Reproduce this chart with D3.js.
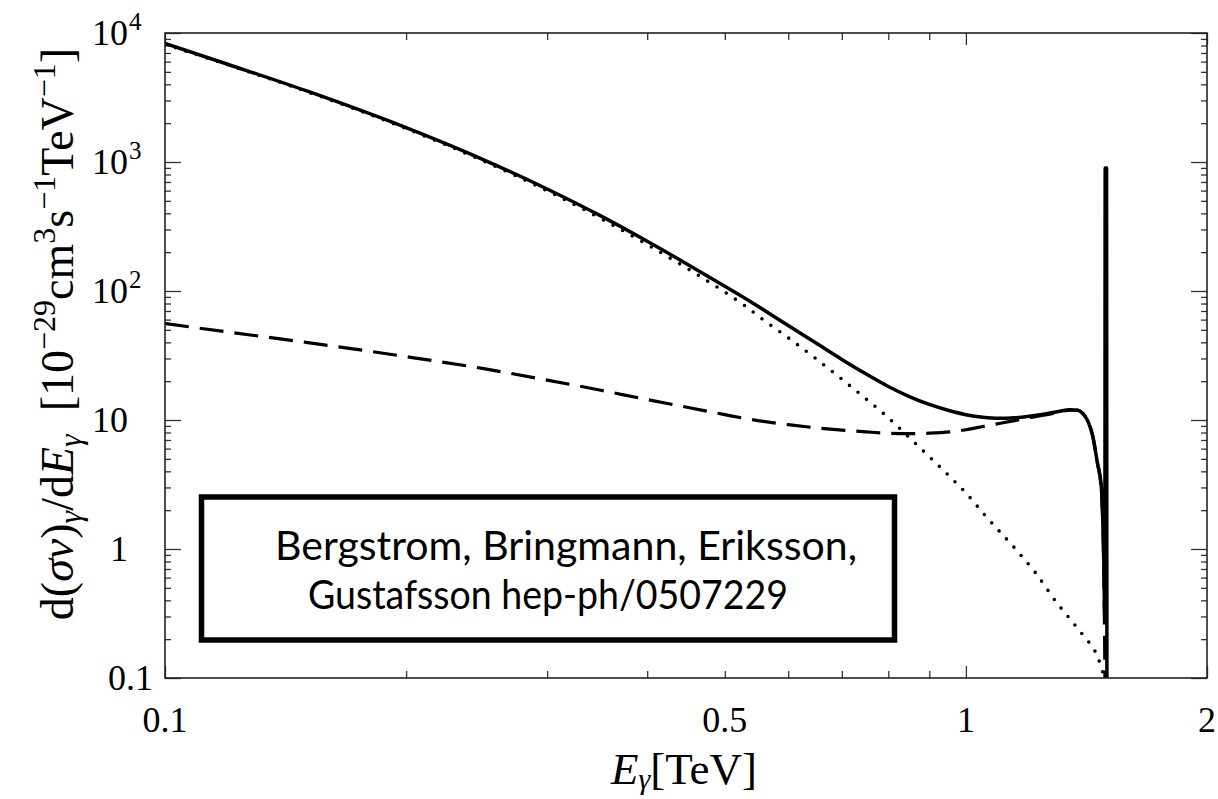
<!DOCTYPE html>
<html>
<head>
<meta charset="utf-8">
<script src="https://cdn.jsdelivr.net/npm/d3@7"></script>
<style>
  body { margin: 0; background: #fff; }
  svg { display: block; }
  .domain { display: none; }
</style>
</head>
<body>
<svg id="chart" width="1218" height="799"></svg>
<script>
"use strict"

// E_gamma [TeV] vs d(sigma v)/dE [1e-29 cm^3 s^-1 TeV^-1]
let totalSpectrum = [
  [0.1, 8300], [0.12, 5700], [0.15, 3570], [0.2, 1846], [0.25, 1040],
  [0.3, 618], [0.35, 382], [0.4, 243], [0.45, 160], [0.5, 109],
  [0.528, 89], [0.56, 71], [0.6, 54], [0.65, 39.5], [0.7, 29.5],
  [0.75, 22.8], [0.8, 18.2], [0.85, 15.2], [0.9, 13.2], [0.95, 11.9],
  [1.0, 11.0], [1.05, 10.5], [1.1, 10.3], [1.15, 10.4], [1.2, 10.7],
  [1.25, 11.1], [1.3, 11.6], [1.35, 12.0], [1.38, 11.9], [1.4, 11.2],
  [1.42, 9.8], [1.44, 7.5], [1.46, 4.6], [1.475, 3.2], [1.486, 0.9],
  [1.491, 0.3], [1.4925, 900], [1.4985, 900], [1.5, 0.05]
]

let lineIBSpectrum = [
  [0.1, 56], [0.12, 48], [0.15, 40], [0.2, 31], [0.25, 25],
  [0.3, 20.4], [0.35, 17], [0.4, 14.4], [0.45, 12.5], [0.5, 11],
  [0.55, 9.9], [0.6, 9.2], [0.65, 8.7], [0.7, 8.35], [0.75, 8.1],
  [0.8, 7.9], [0.85, 7.85], [0.9, 7.9], [0.96, 8.1], [1.0, 8.4],
  [1.05, 8.9], [1.1, 9.4], [1.15, 9.9], [1.2, 10.4], [1.25, 10.9],
  [1.3, 11.4], [1.35, 11.9], [1.38, 11.9], [1.4, 11.2], [1.42, 9.8],
  [1.44, 7.5], [1.46, 4.6], [1.475, 3.0], [1.486, 0.8], [1.492, 0.08]
]

let continuumSpectrum = [
  [0.1, 8150], [0.12, 5650], [0.15, 3530], [0.2, 1815], [0.25, 1015],
  [0.3, 598], [0.35, 365], [0.4, 229], [0.45, 148], [0.5, 98],
  [0.528, 78], [0.56, 59], [0.6, 43.4], [0.65, 29.8], [0.7, 20.7],
  [0.75, 14.6], [0.8, 10.4], [0.85, 7.3], [0.9, 5.2], [0.95, 3.75],
  [1.0, 2.72], [1.06, 1.78], [1.15, 1.02], [1.22, 0.66], [1.3, 0.38],
  [1.35, 0.285], [1.4, 0.215], [1.46, 0.146], [1.49, 0.1]
]

let xMajor = [0.1, 1, 2]
let xMinor = [0.2, 0.3, 0.4, 0.5, 0.6, 0.7, 0.8, 0.9]
let xLabels = [["0.1", 0.1], ["0.5", 0.5], ["1", 1], ["2", 2]]
let yMajor = [0.1, 1, 10, 100, 1000, 10000]
let yLabels = [["0.1", null, 0.1], ["1", null, 1], ["10", null, 10],
               ["10", "2", 100], ["10", "3", 1000], ["10", "4", 10000]]

let svg = d3.select("#chart")
let pLeft = 165, pRight = 1207, pTop = 33, pBottom = 678
let serif = "'Liberation Serif', 'DejaVu Serif', serif"

let x = d3.scaleLog().domain([0.1, 2]).range([pLeft, pRight])
let y = d3.scaleLog().domain([0.1, 10000]).range([pBottom, pTop])

let yMinor = []
yMajor.slice(0, -1).forEach(d => {
  for (let k = 2; k <= 9; k++) yMinor.push(d * k)
})

/* tick marks, all pointing inward */
function tickGroup(axis, tx, ty) {
  svg.append("g")
    .attr("transform", "translate(" + tx + "," + ty + ")")
    .call(axis)
    .call(g => g.selectAll("line").attr("stroke", "#333").attr("stroke-width", 1.3))
}
tickGroup(d3.axisBottom(x).tickValues(xMinor).tickSize(-7).tickFormat(""), 0, pBottom)
tickGroup(d3.axisBottom(x).tickValues(xMajor).tickSize(-12).tickFormat(""), 0, pBottom)
tickGroup(d3.axisTop(x).tickValues(xMinor).tickSize(-7).tickFormat(""), 0, pTop)
tickGroup(d3.axisTop(x).tickValues(xMajor).tickSize(-12).tickFormat(""), 0, pTop)
tickGroup(d3.axisLeft(y).tickValues(yMinor).tickSize(-6).tickFormat(""), pLeft, 0)
tickGroup(d3.axisLeft(y).tickValues(yMajor).tickSize(-16).tickFormat(""), pLeft, 0)
tickGroup(d3.axisRight(y).tickValues(yMinor).tickSize(-6).tickFormat(""), pRight, 0)
tickGroup(d3.axisRight(y).tickValues(yMajor).tickSize(-16).tickFormat(""), pRight, 0)

svg.append("defs").append("clipPath").attr("id", "plotclip")
  .append("rect")
  .attr("x", pLeft).attr("y", pTop)
  .attr("width", pRight - pLeft).attr("height", pBottom - pTop)

let line = d3.line()
  .x(d => x(d[0]))
  .y(d => y(Math.max(d[1], 0.01)))
  .curve(d3.curveMonotoneX)

let plot = svg.append("g").attr("clip-path", "url(#plotclip)")

plot.append("path")
  .datum(continuumSpectrum)
  .attr("d", line)
  .attr("fill", "none")
  .attr("stroke", "#000")
  .attr("stroke-width", 3.6)
  .attr("stroke-linecap", "round")
  .attr("stroke-dasharray", "0,11")

plot.append("path")
  .datum(lineIBSpectrum)
  .attr("d", line)
  .attr("fill", "none")
  .attr("stroke", "#000")
  .attr("stroke-width", 3.2)
  .attr("stroke-dasharray", "24,11")

plot.append("path")
  .datum(totalSpectrum)
  .attr("d", line)
  .attr("fill", "none")
  .attr("stroke", "#000")
  .attr("stroke-width", 3.5)
  .attr("stroke-linejoin", "round")

/* frame */
svg.append("rect")
  .attr("x", pLeft).attr("y", pTop)
  .attr("width", pRight - pLeft).attr("height", pBottom - pTop)
  .attr("fill", "none")
  .attr("stroke", "#222")
  .attr("stroke-width", 1.6)

/* tick labels */
svg.append("g").selectAll("text")
  .data(xLabels)
  .join("text")
  .attr("x", d => x(d[1]))
  .attr("y", 732)
  .attr("text-anchor", "middle")
  .attr("font-family", serif)
  .attr("font-size", 36)
  .text(d => d[0])

let yg = svg.append("g").attr("font-family", serif)
yg.selectAll("text.base")
  .data(yLabels)
  .join("text")
  .attr("class", "base")
  .attr("x", d => d[2] < 1 ? 153 : 128)
  .attr("y", d => y(d[2]) + 12)
  .attr("text-anchor", "end")
  .attr("font-size", 36)
  .text(d => d[0])
yg.selectAll("text.exp")
  .data(yLabels.filter(d => d[1]))
  .join("text")
  .attr("class", "exp")
  .attr("x", 129)
  .attr("y", d => y(d[2]) - 3)
  .attr("font-size", 25)
  .text(d => d[1])

/* axis titles */
let xt = svg.append("text")
  .attr("x", 684).attr("y", 784)
  .attr("text-anchor", "middle")
  .attr("font-family", serif)
  .attr("font-size", 45)
xt.append("tspan").attr("font-style", "italic").text("E")
xt.append("tspan").attr("font-style", "italic").attr("font-size", 30).attr("dy", 5).text("γ")
xt.append("tspan").attr("dy", -5).text("[TeV]")

let yt = svg.append("text")
  .attr("transform", "translate(73,334) rotate(-90)")
  .attr("text-anchor", "middle")
  .attr("font-family", serif)
  .attr("font-size", 46)
let parts = [
  ["d(", 0, 0, false], ["σv", 0, 0, true], [")", 0, 0, false],
  ["γ", 8, 32, true], ["/d", -8, 0, false], ["E", 0, 0, true],
  ["γ", 8, 32, true], ["\u2002[10", -8, 0, false], ["−29", -18, 32, false],
  ["cm", 18, 0, false], ["3", -18, 32, false], ["s", 18, 0, false],
  ["−1", -18, 32, false], ["TeV", 18, 0, false], ["−1", -18, 32, false],
  ["]", 18, 0, false]
]
parts.forEach(p => {
  let t = yt.append("tspan").attr("dy", p[1]).text(p[0])
  if (p[2]) t.attr("font-size", p[2])
  if (p[3]) t.attr("font-style", "italic")
})

/* citation box */
svg.append("rect")
  .attr("x", 201.5).attr("y", 497)
  .attr("width", 693).attr("height", 143)
  .attr("fill", "#fff")
  .attr("stroke", "#000")
  .attr("stroke-width", 5.5)

let boxLines = [["Bergstrom, Bringmann, Eriksson,", 275, 560, 582],
                ["Gustafsson hep-ph/0507229", 308, 609, 480]]
svg.append("g").selectAll("text")
  .data(boxLines)
  .join("text")
  .attr("x", d => d[1])
  .attr("y", d => d[2])
  .attr("textLength", d => d[3])
  .attr("lengthAdjust", "spacingAndGlyphs")
  .attr("font-family", "Lato, 'Open Sans', sans-serif")
  .attr("font-size", 40)
  .text(d => d[0])
</script>
</body>
</html>
